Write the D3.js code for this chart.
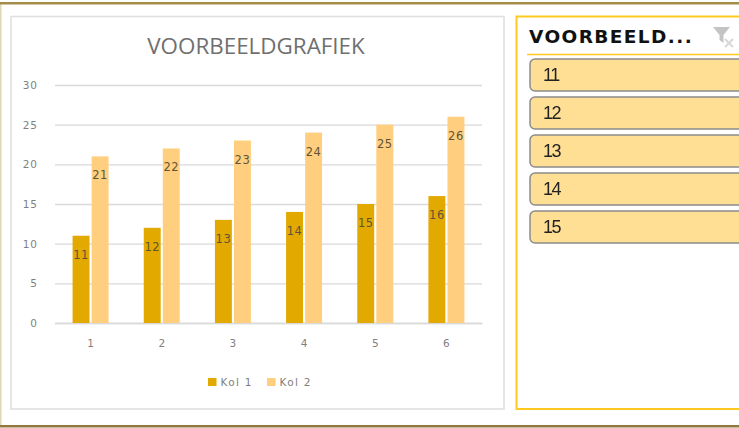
<!DOCTYPE html>
<html>
<head>
<meta charset="utf-8">
<script src="https://cdn.jsdelivr.net/npm/d3@7"></script>
<style>
  html, body { margin: 0; padding: 0; background: #fff; overflow: hidden; }
  svg { display: block; filter: blur(0.45px); }
  text { font-family: "DejaVu Sans", sans-serif; }
</style>
</head>
<body>
<div id="chart"></div>
<script>
// Excel style pivot chart with a slicer next to it

const categories = ["1", "2", "3", "4", "5", "6"];
const seriesNames = ["Kol 1", "Kol 2"];
const kol1 = [11, 12, 13, 14, 15, 16];
const kol2 = [21, 22, 23, 24, 25, 26];
const yTicks = [0, 5, 10, 15, 20, 25, 30];
const slicerItems = ["11", "12", "13", "14", "15"];

const colors = ["#e2aa00", "#ffcf7f"];
const textGrey = "#7f7f7f";

const width = 739;
const height = 428;

const svg = d3.select("#chart")
    .append("svg")
    .attr("width", width)
    .attr("height", height);

// Outer sheet border
svg.append("rect").attr("x", 0).attr("y", 2).attr("width", 1.5).attr("height", 424).attr("fill", "#ddd6b4");
svg.append("rect").attr("x", 0).attr("y", 2).attr("width", width).attr("height", 2.5).attr("fill", "#a58c48");
svg.append("rect").attr("x", 0).attr("y", 425).attr("width", width).attr("height", 2.5).attr("fill", "#8f7a3c");

// Chart frame
svg.append("rect")
    .attr("x", 11).attr("y", 16.5)
    .attr("width", 493).attr("height", 392.5)
    .attr("fill", "#fff")
    .attr("stroke", "#e0e0e0")
    .attr("stroke-width", 1.6);

svg.append("text")
    .attr("x", 256).attr("y", 54)
    .attr("text-anchor", "middle")
    .style("font-family", "'Open Sans', sans-serif")
    .attr("font-size", 22.4)
    .attr("fill", "#6f6f6f")
    .text("VOORBEELDGRAFIEK");

// Scales
const x = d3.scaleBand().domain(categories).range([55, 482]);
const xInner = d3.scaleBand().domain(seriesNames).range([0, 36]).paddingInner(0.11);
const y = d3.scaleLinear().domain([0, 30]).range([323, 85]);
const barOffset = () => x.bandwidth() / 2 - 18;

// Gridlines + y axis
const yAxis = svg.append("g")
    .attr("transform", "translate(55,0)")
    .call(d3.axisLeft(y).tickValues(yTicks).tickSize(-427).tickPadding(17));
yAxis.select(".domain").remove();
yAxis.selectAll("line").attr("stroke", "#d9d9d9").attr("stroke-width", 1.3);
yAxis.selectAll("text").attr("fill", textGrey).attr("font-size", 10.5).attr("letter-spacing", 1);

const xAxis = svg.append("g")
    .attr("transform", "translate(0,323)")
    .call(d3.axisBottom(x).tickSize(0).tickPadding(17));
xAxis.select(".domain").attr("stroke", "#d9d9d9").attr("stroke-width", 1.3);
xAxis.selectAll("text").attr("fill", textGrey).attr("font-size", 10.5);

// Bars and their labels (inside end)
[kol1, kol2].forEach((values, s) => {
    const g = svg.append("g");
    g.selectAll("rect")
        .data(values)
        .enter()
        .append("rect")
        .attr("x", (d, i) => x(categories[i]) + barOffset() + xInner(seriesNames[s]))
        .attr("y", d => y(d))
        .attr("width", xInner.bandwidth())
        .attr("height", d => y(0) - y(d))
        .attr("fill", colors[s]);
    g.selectAll("text")
        .data(values)
        .enter()
        .append("text")
        .attr("x", (d, i) => x(categories[i]) + barOffset() + xInner(seriesNames[s]) + xInner.bandwidth() / 2)
        .attr("y", d => y(d) + 23)
        .attr("text-anchor", "middle")
        .attr("font-size", 11.5)
        .attr("letter-spacing", 0.5)
        .attr("fill", "#5f5436")
        .text(d => d);
});

// Legend
const legendX = [208, 267];
const legend = svg.append("g").selectAll("g")
    .data(seriesNames)
    .enter()
    .append("g")
    .attr("transform", (d, i) => `translate(${legendX[i]},378)`);
legend.append("rect").attr("width", 8.5).attr("height", 8).attr("fill", (d, i) => colors[i]);
legend.append("text")
    .attr("x", 12.5).attr("y", 8)
    .attr("font-size", 10.5)
    .attr("letter-spacing", 1.3)
    .attr("fill", textGrey)
    .text(d => d);

// Slicer panel
svg.append("rect")
    .attr("x", 516.5).attr("y", 16.5)
    .attr("width", 240).attr("height", 392.5)
    .attr("fill", "#fff")
    .attr("stroke", "#ffc91f")
    .attr("stroke-width", 2);

svg.append("text")
    .attr("x", 529).attr("y", 43)
    .attr("font-size", 18.5)
    .attr("font-weight", 700)
    .attr("letter-spacing", 1.4)
    .attr("fill", "#111")
    .text("VOORBEELD...");

svg.append("line")
    .attr("x1", 527).attr("x2", 739)
    .attr("y1", 54.5).attr("y2", 54.5)
    .attr("stroke", "#ffc91f")
    .attr("stroke-width", 1.5);

// Clear filter icon (greyed out)
const icon = svg.append("g").attr("transform", "translate(713,27)");
icon.append("path").attr("d", "M0,0 H17 L10.5,8 V16 L6.5,13 V8 Z").attr("fill", "#c4c4c4");
icon.append("path").attr("d", "M12,12 L20,20 M20,12 L12,20").attr("stroke", "#d8d8d8").attr("stroke-width", 2);

const slicerY = d3.scalePoint().domain(slicerItems).range([59, 211]);
const items = svg.append("g").selectAll("g")
    .data(slicerItems)
    .enter()
    .append("g")
    .attr("transform", d => `translate(530,${slicerY(d)})`);
items.append("rect")
    .attr("width", 230).attr("height", 32)
    .attr("rx", 5)
    .attr("fill", "#ffdf94")
    .attr("stroke", "#8c8c8c")
    .attr("stroke-width", 1.5);
items.append("text")
    .attr("x", 13).attr("y", 22)
    .style("font-family", "'Liberation Sans', sans-serif")
    .attr("font-size", 18)
    .attr("letter-spacing", -1.5)
    .attr("fill", "#222")
    .text(d => d);
</script>
</body>
</html>
